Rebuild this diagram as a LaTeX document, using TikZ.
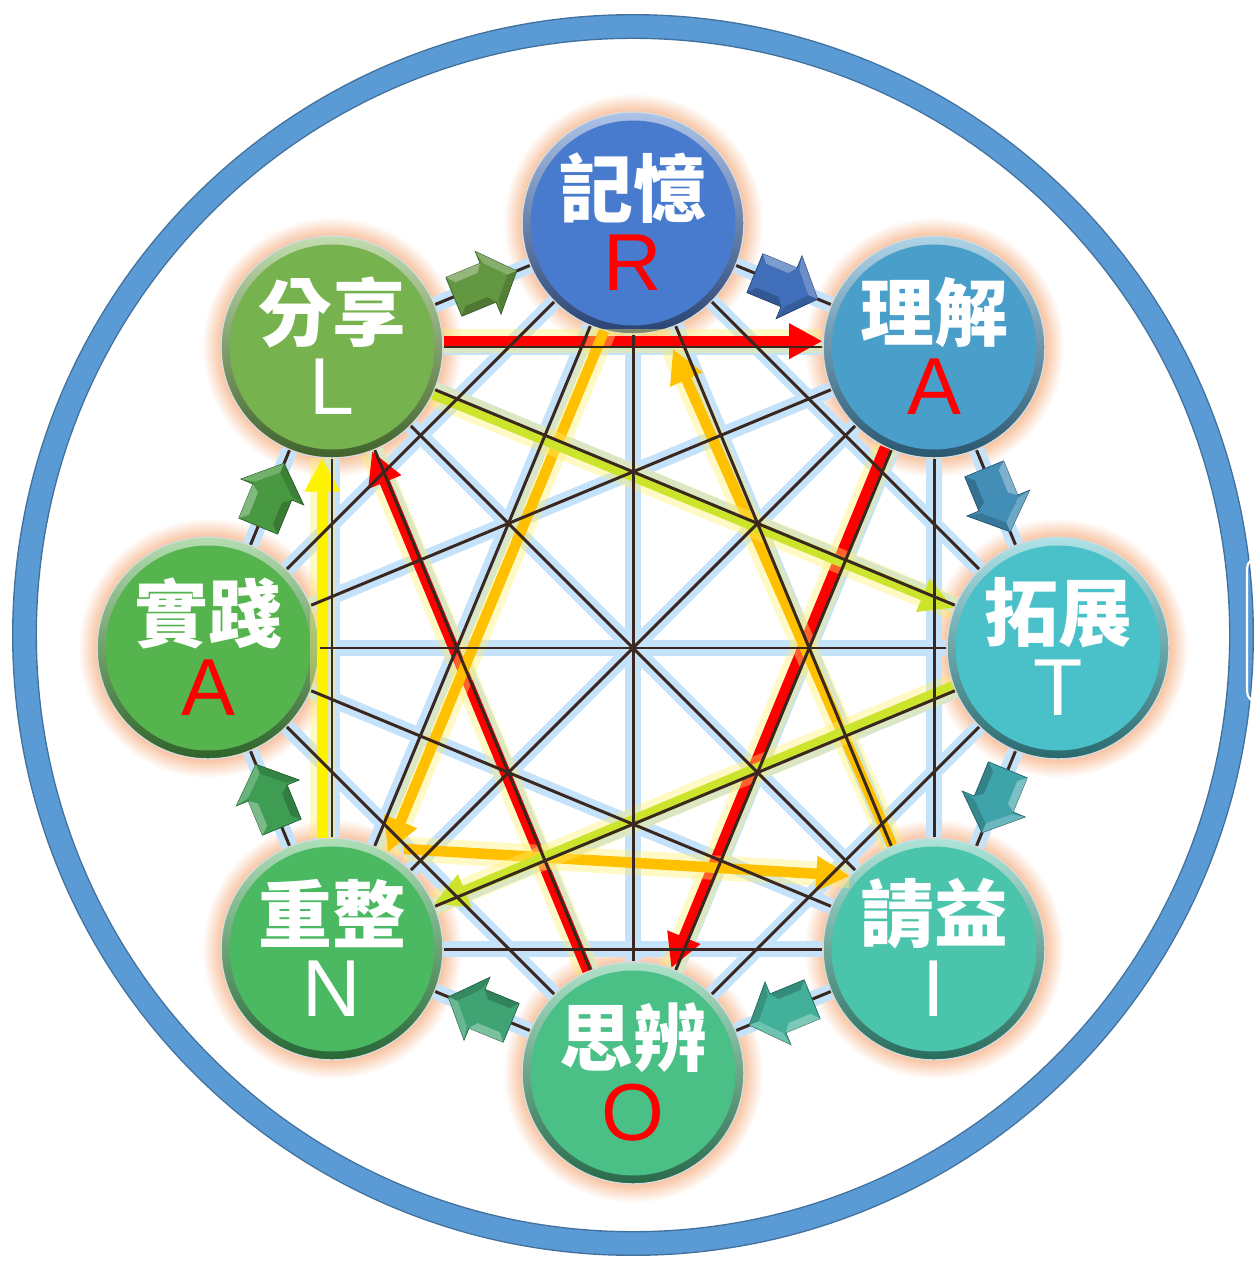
\documentclass[tikz,border=0pt]{standalone}
\usepackage{fontspec}
\usepackage{xcolor}
\usepackage{tikz}
\usetikzlibrary{calc}
\usetikzlibrary{positioning}
\usetikzlibrary{arrows.meta}

\newfontfamily\cjk{Noto Sans CJK TC}
\newfontfamily\lat{Liberation Sans}

\definecolor{ringblue}{RGB}{91,155,213}
\definecolor{ringedge}{RGB}{65,113,156}
\definecolor{haloc}{RGB}{247,190,152}
\definecolor{glow}{RGB}{196,226,250}
\definecolor{wirec}{RGB}{58,40,32}
\definecolor{glowY}{RGB}{255,240,110}
\definecolor{orangeA}{RGB}{255,192,0}
\definecolor{limeA}{RGB}{205,228,45}
\definecolor{cR}{RGB}{72,122,206}
\definecolor{cA}{RGB}{74,158,202}
\definecolor{cT}{RGB}{74,192,200}
\definecolor{cI}{RGB}{74,196,170}
\definecolor{cO}{RGB}{74,192,135}
\definecolor{cN}{RGB}{74,185,98}
\definecolor{cP}{RGB}{86,180,78}
\definecolor{cL}{RGB}{118,178,78}

\pgfdeclareradialshading{halo}{\pgfpoint{0bp}{0bp}}{color(0bp)=(haloc); color(21bp)=(haloc); color(25bp)=(white); color(50bp)=(white)}
\pgfdeclarelayer{bg}
\pgfsetlayers{bg,main}

\tikzset{pics/blockarr/.style={code={
  \fill[#1, draw=#1!60!black, line width=.4pt]
    (-31,-21) -- (6,-21) -- (6,-34) -- (37,0) -- (6,34) -- (6,21) -- (-31,21) -- cycle;
  \fill[#1!55!white, opacity=.7] (-31,-21) -- (6,-21) -- (0,-13) -- (-24,-13) -- cycle;
  \fill[#1!55!white, opacity=.5] (6,-34) -- (37,0) -- (27,0) -- (9,-20) -- cycle;
  \fill[#1!60!black, opacity=.5] (-31,21) -- (6,21) -- (0,13) -- (-24,13) -- cycle;
  \fill[#1!60!black, opacity=.4] (6,34) -- (37,0) -- (27,0) -- (9,20) -- cycle;
}}}

\begin{document}
\begin{tikzpicture}[x=0.02cm,y=-0.02cm]
  \tikzstyle{ball}=[circle, minimum size=4.44cm, inner sep=0pt, draw=white!70!gray, line width=.8pt,
    top color=#1!45!white, bottom color=#1!55!black,
    path picture={\fill[#1] (path picture bounding box.center) circle[radius=2.05cm];}]
  \tikzstyle{word}=[inner sep=0pt, text=white, font=\cjk\bfseries\fontsize{42}{42}\selectfont]
  \tikzstyle{letter}=[inner sep=0pt, text=#1, font=\lat\fontsize{46}{46}\selectfont]
  \tikzstyle{glowline}=[draw=glow, line width=9pt]
  \tikzstyle{wire}=[draw=wirec, line width=1.7pt]
  \tikzstyle{hot}=[draw=#1, line width=6pt, -{Triangle[length=19pt,width=19pt]},
    preaction={draw=glowY, line width=14pt, opacity=.4, -}]
  \tikzstyle{fat}=[midway, sloped, allow upside down]

  \useasboundingbox (0,0) rectangle (1255,1263);

  % outer ring
  \draw[ringedge, line width=14.2pt] (633,635) circle (608.5);
  \draw[ringblue, line width=12.6pt] (633,635) circle (608.5);
  \draw[white, line width=1.2pt, rounded corners=6pt] (1275,558) -- (1247,558) -- (1247,702) -- (1275,702);

  % the eight balls
  \node[ball=cR] (R) at (633,223) {};
  \node[word] (Rw) at ($(R)+(0,-35)$) {記憶};
  \node[letter=red] (Rl) at ($(R)+(0,40)$) {R};
  \node[ball=cA] (A) at (934,347) {};
  \node[word] (Aw) at ($(A)+(0,-35)$) {理解};
  \node[letter=red] (Al) at ($(A)+(0,40)$) {A};
  \node[ball=cT] (T) at (1058,648) {};
  \node[word] (Tw) at ($(T)+(0,-35)$) {拓展};
  \node[letter=white] (Tl) at ($(T)+(0,40)$) {T};
  \node[ball=cI] (I) at (934,949) {};
  \node[word] (Iw) at ($(I)+(0,-35)$) {請益};
  \node[letter=white] (Il) at ($(I)+(0,40)$) {I};
  \node[ball=cO] (O) at (633,1073) {};
  \node[word] (Ow) at ($(O)+(0,-35)$) {思辨};
  \node[letter=red] (Ol) at ($(O)+(0,40)$) {O};
  \node[ball=cN] (N) at (332,949) {};
  \node[word] (Nw) at ($(N)+(0,-35)$) {重整};
  \node[letter=white] (Nl) at ($(N)+(0,40)$) {N};
  \node[ball=cP] (P) at (208,648) {};
  \node[word] (Pw) at ($(P)+(0,-35)$) {實踐};
  \node[letter=red] (Pl) at ($(P)+(0,40)$) {A};
  \node[ball=cL] (L) at (332,347) {};
  \node[word] (Lw) at ($(L)+(0,-35)$) {分享};
  \node[letter=white] (Ll) at ($(L)+(0,40)$) {L};

  \begin{pgfonlayer}{bg}
    \foreach \n in {R,A,T,I,O,N,P,L}
      \shade[shading=halo] (\n) circle (130);
  \end{pgfonlayer}

  \def\wires{R/A,R/T,R/I,R/O,R/N,R/P,R/L,A/T,A/I,A/O,A/N,A/P,A/L,T/I,T/O,T/N,T/P,T/L,
    I/O,I/N,I/P,I/L,O/N,O/P,O/L,N/P,N/L,P/L}
  \foreach \a/\b in \wires
    \path (\a) edge[glowline] (\b);

  % coloured cycles
  \draw[hot=red] (L.3) -- (A.177);
  \draw[hot=red] (A.244) -- (O.70);
  \draw[hot=red] (O.114) -- (L.291);
  \draw[hot=orangeA] (R.255) -- (N.60);
  \draw[hot=orangeA] ($(N)+(72,-100)$) -- (I.139);
  \draw[hot=orangeA] (I.112) -- ($(R)+(40,126)$);
  \draw[hot=limeA] (L.335) -- (T.159);
  \draw[hot=limeA] (T.200) -- (N.24);
  \draw[hot=yellow] (N.95) -- (L.265);

  \foreach \a/\b in \wires
    \path (\a) edge[wire] (\b);

  % block arrows round the ring
  \path (L) -- (R) pic[fat] {blockarr=cL!85!black};
  \path (R) -- (A) pic[fat] {blockarr=cR!90!black};
  \path (A) -- (T) pic[fat] {blockarr=cA!90!black};
  \path (T) -- (I) pic[fat] {blockarr=cT!85!black};
  \path (I) -- (O) pic[fat] {blockarr=cI!90!black};
  \path (O) -- (N) pic[fat] {blockarr=cO!85!black};
  \path (N) -- (P) pic[fat] {blockarr=cN!85!black};
  \path (P) -- (L) pic[fat] {blockarr=cP!85!black};
\end{tikzpicture}
\end{document}
